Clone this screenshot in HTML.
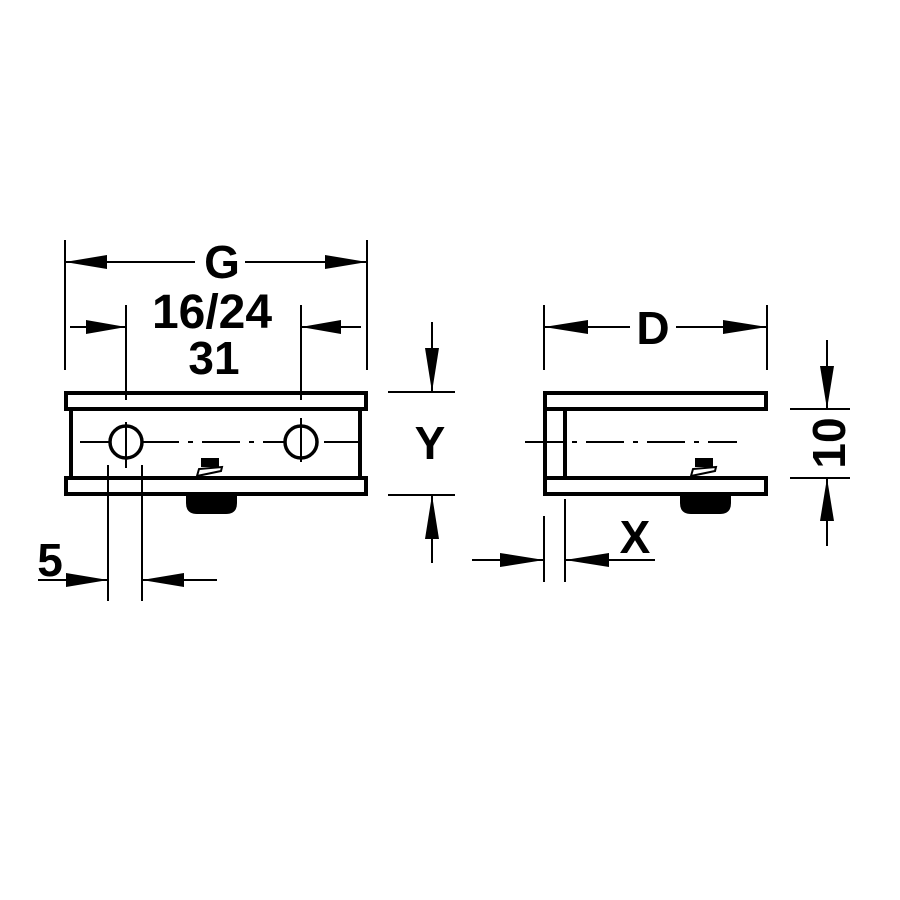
<!DOCTYPE html>
<html><head><meta charset="utf-8"><style>
html,body{margin:0;padding:0;background:#fff;}
svg{display:block;}
text{font-family:"Liberation Sans",sans-serif;font-weight:bold;fill:#000;}
</style></head><body>
<svg width="900" height="900" viewBox="0 0 900 900" xmlns="http://www.w3.org/2000/svg">
<rect width="900" height="900" fill="#fff"/>
<g stroke="#000" fill="none">
<rect x="66" y="393" width="300" height="16" stroke-width="4" fill="#fff"/>
<rect x="66" y="478" width="300" height="16" stroke-width="4" fill="#fff"/>
<line x1="71" y1="409" x2="71" y2="478" stroke-width="4"/>
<line x1="360" y1="409" x2="360" y2="478" stroke-width="4"/>
<line x1="80" y1="442" x2="358" y2="442" stroke-width="2" stroke-dasharray="38,9,5,9"/>
<circle cx="126" cy="442" r="16" stroke-width="3.5" fill="#fff"/>
<circle cx="301" cy="442" r="16" stroke-width="3.5" fill="#fff"/>
<line x1="126" y1="422" x2="126" y2="468" stroke-width="2"/>
<line x1="301" y1="418" x2="301" y2="462" stroke-width="2"/>
<line x1="108" y1="465" x2="108" y2="601" stroke-width="2"/>
<line x1="142" y1="465" x2="142" y2="601" stroke-width="2"/>
<line x1="38" y1="580" x2="108" y2="580" stroke-width="2"/>
<line x1="142" y1="580" x2="217" y2="580" stroke-width="2"/>
<line x1="65" y1="240" x2="65" y2="370" stroke-width="2"/>
<line x1="367" y1="240" x2="367" y2="370" stroke-width="2"/>
<line x1="65" y1="262" x2="195" y2="262" stroke-width="2"/>
<line x1="245" y1="262" x2="367" y2="262" stroke-width="2"/>
<line x1="126" y1="305" x2="126" y2="400" stroke-width="2"/>
<line x1="301" y1="305" x2="301" y2="400" stroke-width="2"/>
<line x1="70" y1="327" x2="126" y2="327" stroke-width="2"/>
<line x1="301" y1="327" x2="361" y2="327" stroke-width="2"/>
<line x1="388" y1="392" x2="455" y2="392" stroke-width="2"/>
<line x1="388" y1="495" x2="455" y2="495" stroke-width="2"/>
<line x1="432" y1="322" x2="432" y2="392" stroke-width="2"/>
<line x1="432" y1="495" x2="432" y2="563" stroke-width="2"/>
<rect x="545" y="393" width="221" height="16" stroke-width="4" fill="#fff"/>
<rect x="545" y="478" width="221" height="16" stroke-width="4" fill="#fff"/>
<line x1="545" y1="393" x2="545" y2="494" stroke-width="4"/>
<line x1="565" y1="409" x2="565" y2="478" stroke-width="4"/>
<line x1="525" y1="442" x2="737" y2="442" stroke-width="2" stroke-dasharray="38,9,5,9"/>
<line x1="544" y1="305" x2="544" y2="370" stroke-width="2"/>
<line x1="767" y1="305" x2="767" y2="370" stroke-width="2"/>
<line x1="544" y1="327" x2="630" y2="327" stroke-width="2"/>
<line x1="676" y1="327" x2="767" y2="327" stroke-width="2"/>
<line x1="790" y1="409" x2="850" y2="409" stroke-width="2"/>
<line x1="790" y1="478" x2="850" y2="478" stroke-width="2"/>
<line x1="827" y1="340" x2="827" y2="409" stroke-width="2"/>
<line x1="827" y1="478" x2="827" y2="546" stroke-width="2"/>
<line x1="544" y1="516" x2="544" y2="582" stroke-width="2"/>
<line x1="565" y1="499" x2="565" y2="582" stroke-width="2"/>
<line x1="472" y1="560" x2="544" y2="560" stroke-width="2"/>
<line x1="565" y1="560" x2="655" y2="560" stroke-width="2"/>
</g>
<g fill="#000">
<path d="M186 496 H237 V503 Q237 514 226 514 H197 Q186 514 186 503 Z"/>
<path d="M680 496 H731 V503 Q731 514 720 514 H691 Q680 514 680 503 Z"/>
<rect x="201" y="458" width="18" height="9"/>
<path d="M197 476 L199 469 L222 467 L221 471 Z" fill="none" stroke="#000" stroke-width="2"/>
<rect x="695" y="458" width="18" height="9"/>
<path d="M691 476 L693 469 L716 467 L715 471 Z" fill="none" stroke="#000" stroke-width="2"/>
<polygon points="65,262 107,255 107,269"/>
<polygon points="367,262 325,255 325,269"/>
<polygon points="126,327 86,320 86,334"/>
<polygon points="301,327 341,320 341,334"/>
<polygon points="108,580 66,573 66,587"/>
<polygon points="142,580 184,573 184,587"/>
<polygon points="432,392 425,348 439,348"/>
<polygon points="432,495 425,539 439,539"/>
<polygon points="544,327 588,320 588,334"/>
<polygon points="767,327 723,320 723,334"/>
<polygon points="827,409 820,366 834,366"/>
<polygon points="827,478 820,521 834,521"/>
<polygon points="544,560 500,553 500,567"/>
<polygon points="565,560 609,553 609,567"/>
</g>
<text x="222" y="278" font-size="46" text-anchor="middle">G</text>
<text x="212" y="328" font-size="48" text-anchor="middle">16/24</text>
<text x="214" y="374" font-size="46" text-anchor="middle">31</text>
<text x="50" y="576" font-size="46" text-anchor="middle">5</text>
<text x="430" y="459" font-size="46" text-anchor="middle">Y</text>
<text x="653" y="344" font-size="46" text-anchor="middle">D</text>
<text x="635" y="553" font-size="46" text-anchor="middle">X</text>
<text x="0" y="0" font-size="46" text-anchor="middle" transform="translate(845,443) rotate(-90)">10</text>
</svg>
</body></html>
